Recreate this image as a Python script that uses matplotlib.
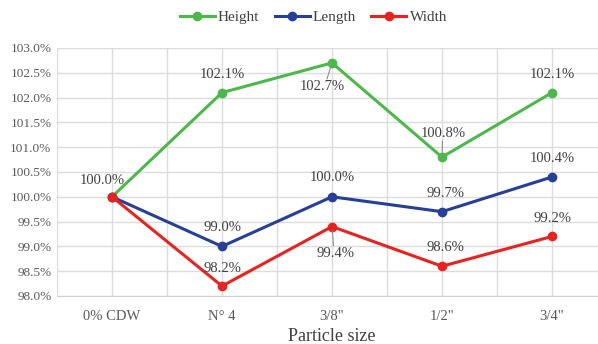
import matplotlib
matplotlib.use("Agg")
import matplotlib.pyplot as plt

categories = ["0% CDW", "N\u00b0 4", "3/8\"", "1/2\"", "3/4\""]
height = [100.0, 102.1, 102.7, 100.8, 102.1]
length = [100.0, 99.0, 100.0, 99.7, 100.4]
width = [100.0, 98.2, 99.4, 98.6, 99.2]
yticks = [98.0, 98.5, 99.0, 99.5, 100.0, 100.5, 101.0, 101.5, 102.0, 102.5, 103.0]

plt.rcParams["font.family"] = ["Liberation Serif", "DejaVu Serif"]

GREEN = "#4cb84a"
BLUE = "#26409a"
RED = "#e8231f"
TXT = "#404040"

fig = plt.figure(figsize=(5.98, 3.44), dpi=100)
ax = fig.add_axes([57 / 598, 1 - 296 / 344, 550 / 598, 248 / 344])

x = list(range(len(categories)))
series = [("Height", height, GREEN), ("Length", length, BLUE), ("Width", width, RED)]
for name, vals, col in series:
    ax.plot(x, vals, "-o", color=col, linewidth=2.2, markersize=6, label=name,
            clip_on=False, zorder=3)

ax.set_xlim(-0.5, 4.5)
ax.set_ylim(98.0, 103.0)
ax.set_yticks(yticks)
ax.set_yticklabels([f"{v:.1f}%" for v in yticks])
ax.set_xticks(x)
ax.set_xticklabels(categories)
ax.set_xticks([i + 0.5 for i in range(-1, 5)], minor=True)
ax.grid(True, which="both", color="#dcdcdc", linewidth=1)
ax.set_axisbelow(True)
for s in ["top", "right", "left"]:
    ax.spines[s].set_visible(False)
ax.spines["bottom"].set_color("#cfcfcf")
ax.tick_params(axis="both", which="both", length=0, colors="#595959", labelsize=9.5)
ax.tick_params(axis="x", pad=10, labelsize=10.5)
ax.tick_params(axis="y", pad=4)
ax.set_xlabel("Particle size", fontsize=13, color="#404040", labelpad=4)

# data labels: (series values, index, dx px, dy px, leader)
labels = [
    (height, 0, -10, 16, False),
    (height, 1, 0, 18, False),
    (height, 2, -10, -24, True),
    (height, 3, 1, 24, True),
    (height, 4, 0, 18, False),
    (length, 1, 0, 19, False),
    (length, 2, 0, 19, False),
    (length, 3, 3, 18, False),
    (length, 4, 0, 18, False),
    (width, 1, 0, 18, False),
    (width, 2, 3, -27, True),
    (width, 3, 3, 19, False),
    (width, 4, 0, 18, False),
]
for vals, i, dx, dy, leader in labels:
    ax.annotate(f"{vals[i]:.1f}%", (i, vals[i]), xytext=(dx, dy),
                textcoords="offset pixels", ha="center", va="center",
                fontsize=10.5, color=TXT, zorder=4)
    if leader:
        sgn = 1 if dy > 0 else -1
        ax.annotate("", (i, vals[i]), xytext=(dx * 0.5, dy - sgn * 8),
                    textcoords="offset pixels",
                    arrowprops=dict(arrowstyle="-", color="#8c8c8c", lw=0.8,
                                    shrinkA=0, shrinkB=3))

fig.legend(loc="center", bbox_to_anchor=(0.524, 0.95), ncol=3, frameon=False,
           fontsize=11, handlelength=2.3, columnspacing=1.0, handletextpad=0.2,
           labelcolor="#404040")

fig.savefig("out.png", dpi=100)
